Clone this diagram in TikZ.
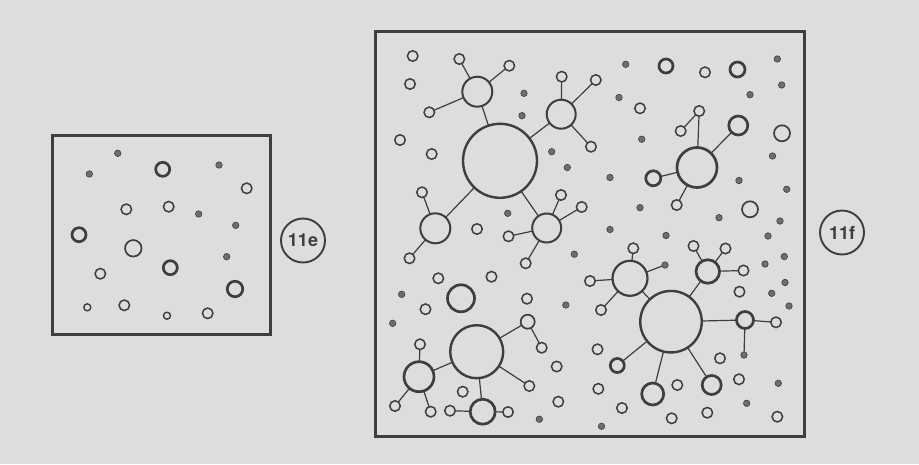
\documentclass[tikz,border=0pt]{standalone}
\usepackage{fontspec}
\setsansfont{TeX Gyre Heros}
\definecolor{paper}{RGB}{221,221,219}
\definecolor{ink}{RGB}{62,62,62}
\definecolor{dotfill}{RGB}{110,110,110}
\tikzset{
  cell/.style={circle, draw=ink, inner sep=0pt, outer sep=0pt},
  ring/.style={cell, line width=1.5pt, minimum size=10.5pt},
  smallring/.style={cell, line width=1.4pt, minimum size=7pt},
  wide ring/.style={cell, line width=1.7pt, minimum size=#1},
  bold ring/.style={cell, line width=2.7pt, minimum size=#1},
  hub/.style={cell, line width=2.4pt, minimum size=#1},
  satellite hub/.style={cell, line width=2pt, minimum size=#1},
  speck/.style={circle, fill=dotfill, draw=ink, line width=0.6pt, minimum size=6.5pt, inner sep=0pt, outer sep=0pt},
  link/.style={draw=ink, line width=1.2pt},
  frame/.style={draw=ink, line width=3pt},
  tag/.style={circle, draw=ink, line width=1.9pt, minimum size=44pt, inner sep=0pt,
    text=ink, font=\sffamily\bfseries\fontsize{18}{18}\selectfont}
}
\begin{document}
\begin{tikzpicture}[x=1pt,y=-1pt]
\useasboundingbox (0,0) rectangle (919,464);
\fill[paper] (0,0) rectangle (919,464);

% ---------- panel 11e ----------
\draw[frame] (52.5,135) rectangle (270,334.5);
\foreach \x/\y [count=\i] in {117.7/153.3, 89.3/174, 219/165, 198.7/214, 235.7/225.3, 226.7/256.7}
  \node[speck] (ed\i) at (\x,\y) {};
\foreach \x/\y [count=\i] in {246.7/188.3, 126.3/209.3, 168.7/206.7, 100.3/273.7, 124.3/305.3, 207.7/313.3}
  \node[ring] (er\i) at (\x,\y) {};
\node[wide ring=16.5pt] (ebig) at (133.3,248.3) {};
\foreach \x/\y [count=\i] in {162.7/169.3, 79/234.7, 170.3/267.7}
  \node[bold ring=14pt] (eb\i) at (\x,\y) {};
\node[bold ring=15.5pt] (eb4) at (235,289) {};
\foreach \x/\y [count=\i] in {87.3/307.3, 167/315.7}
  \node[smallring] (es\i) at (\x,\y) {};
\node[tag] (tag11e) at (303,240.5) {11e};

% ---------- panel 11f ----------
\draw[frame] (375.5,31.5) rectangle (804,436.5);

% loose rings
\foreach \x/\y [count=\i] in {412.7/56, 410/84, 400/140, 431.7/154, 477/229, 705/72.3,
    640/108.3, 438.3/278.3, 491.5/276.7, 425.5/309.2, 527/298.7, 462.7/391.7,
    739.5/291.7, 597.5/349.3, 720/358.3, 739/379.3, 677.3/385, 598.3/388.8,
    622/408, 671.7/418.3, 707.3/412.7, 777.3/416.7, 556.7/366.5, 558.3/401.7}
  \node[ring] (fr\i) at (\x,\y) {};
\node[wide ring=16pt] (fw1) at (782,133.3) {};
\node[wide ring=16pt] (fw2) at (750,209.3) {};
\node[bold ring=14pt] (fb1) at (666,66) {};
\node[bold ring=15pt] (fb2) at (737.5,69.5) {};
\node[bold ring=27pt] (fb3) at (461,298.3) {};

% loose specks
\foreach \x/\y [count=\i] in {524/93.3, 522/115.7, 551.7/151.7, 567.3/167.5, 507.7/213.3,
    625.7/64.3, 619/97.5, 641.7/139.2, 610/177.5, 640/207.7, 610/229.5, 666/235.5,
    777.3/59, 781.7/85, 750/94.7, 772.5/156, 739/180.5, 786.7/189.3, 719/217.7,
    780/221, 768/236, 784.3/256.5, 765/264, 785/282.5, 771.7/293.3, 789/306,
    574.3/254.2, 565.8/305, 401.7/294.3, 392.7/323.3, 746.7/403.3, 778.3/383.3,
    601.5/426.3, 539.3/419.2}
  \node[speck] (fd\i) at (\x,\y) {};

% colony A (upper left)
\node[hub=74pt] (A) at (500,160.8) {};
\node[satellite hub=30pt] (A1) at (477.3,91.7) {};
\node[ring] (A1a) at (459.3,59) {};
\node[ring] (A1b) at (509.3,65.7) {};
\node[ring] (A1c) at (429.3,112.3) {};
\node[satellite hub=29pt] (A2) at (561.2,114.2) {};
\node[ring] (A2a) at (561.7,76.7) {};
\node[ring] (A2b) at (595.8,80) {};
\node[ring] (A2c) at (591,146.7) {};
\node[satellite hub=30pt] (A3) at (435.3,228.3) {};
\node[ring] (A3a) at (422,192.3) {};
\node[ring] (A3b) at (409.5,258.3) {};
\node[satellite hub=29pt] (A4) at (546.7,228) {};
\node[ring] (A4a) at (561,195) {};
\node[ring] (A4b) at (581.7,207) {};
\node[ring] (A4c) at (508.5,236.3) {};
\node[ring] (A4d) at (525.7,263.3) {};
\foreach \a/\b in {A/A1, A/A2, A/A3, A/A4, A1/A1a, A1/A1b, A1/A1c, A2/A2a, A2/A2b, A2/A2c,
    A3/A3a, A3/A3b, A4/A4a, A4/A4b, A4/A4c, A4/A4d}
  \draw[link] (\a) -- (\b);

% colony B (upper right)
\node[bold ring=40pt] (B) at (697,167.5) {};
\node[ring] (B1) at (699.2,111) {};
\node[ring] (B1a) at (680.7,131) {};
\node[bold ring=19pt] (B2) at (738.3,125.5) {};
\node[bold ring=15pt] (B3) at (653.3,178.3) {};
\node[ring] (B4) at (676.7,205) {};
\foreach \a/\b in {B/B1, B1/B1a, B/B2, B/B3, B/B4}
  \draw[link] (\a) -- (\b);

% colony C (lower right)
\node[hub=61.5pt] (C) at (671,321.7) {};
\node[cell, line width=2.2pt, minimum size=35pt] (C1) at (630,278.3) {};
\node[ring] (C1a) at (633.3,248.3) {};
\node[speck] (C1b) at (665,265) {};
\node[ring] (C1c) at (590,281) {};
\node[ring] (C1d) at (601,310) {};
\node[bold ring=23.5pt] (C2) at (707.8,271.5) {};
\node[ring] (C2a) at (693.5,246) {};
\node[ring] (C2b) at (725.5,248.5) {};
\node[ring] (C2c) at (743.5,270.5) {};
\node[bold ring=17pt] (C3) at (745,320) {};
\node[ring] (C3a) at (776,322.3) {};
\node[speck] (C3b) at (744,355) {};
\node[bold ring=14pt] (C4) at (617.3,365.5) {};
\node[bold ring=22pt] (C5) at (652.7,394) {};
\node[bold ring=19pt] (C6) at (711.7,385) {};
\foreach \a/\b in {C/C1, C1/C1a, C1/C1b, C1/C1c, C1/C1d, C/C2, C2/C2a, C2/C2b, C2/C2c,
    C/C3, C3/C3a, C3/C3b, C/C4, C/C5, C/C6}
  \draw[link] (\a) -- (\b);

% colony D (lower left)
\node[hub=53pt] (D) at (476.7,351.7) {};
\node[wide ring=14pt] (D1) at (527.7,321.7) {};
\node[ring] (D1a) at (541.7,347.7) {};
\node[ring] (D2) at (529.3,386) {};
\node[bold ring=30pt] (D3) at (419,376.7) {};
\node[ring] (D3a) at (420,344.3) {};
\node[ring] (D3b) at (395,406) {};
\node[ring] (D3c) at (430.7,411.7) {};
\node[bold ring=25pt] (D4) at (482.7,411.7) {};
\node[ring] (D4a) at (450,410.7) {};
\node[ring] (D4b) at (508,412) {};
\foreach \a/\b in {D/D1, D1/D1a, D/D2, D/D3, D3/D3a, D3/D3b, D3/D3c, D/D4, D4/D4a, D4/D4b}
  \draw[link] (\a) -- (\b);

\node[tag] (tag11f) at (842,232.5) {11f};
\end{tikzpicture}
\end{document}
